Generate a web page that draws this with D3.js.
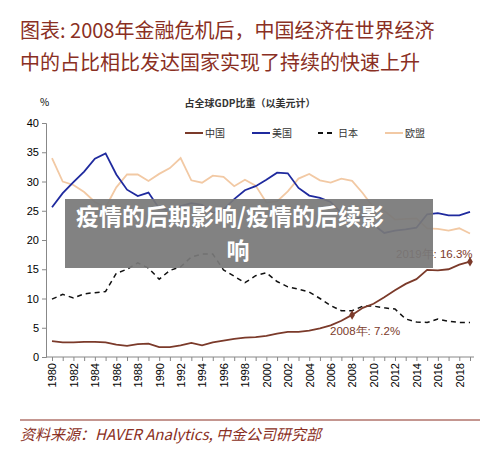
<!DOCTYPE html><html><head><meta charset="utf-8"><script src="https://cdn.jsdelivr.net/npm/d3@7"></script>
<style>body{margin:0;background:#fff;font-family:"Noto Sans CJK SC","Noto Sans",sans-serif}</style></head><body><svg width="500" height="469"></svg><script>
const years=d3.range(1980,2020);
const china=[2.7,2.5,2.5,2.6,2.6,2.5,2.1,1.9,2.2,2.3,1.7,1.7,2.0,2.4,2.0,2.5,2.8,3.1,3.3,3.4,3.6,4.0,4.3,4.3,4.5,4.9,5.4,6.2,7.2,8.4,9.1,10.2,11.4,12.5,13.3,14.9,14.8,15.0,15.8,16.3];
const us=[25.6,28.0,29.9,31.7,33.9,34.8,31.2,28.6,27.5,28.1,25.4,25.1,25.8,26.3,26.0,24.6,25.2,27.0,28.5,29.2,30.3,31.5,31.4,28.9,27.6,27.2,26.5,24.6,23.3,24.1,22.6,21.2,21.6,21.8,22.1,24.4,24.6,24.2,24.2,24.8];
const japan=[9.9,10.7,10.1,10.8,11.0,11.2,14.3,15.0,16.1,15.2,13.3,14.8,15.4,17.1,17.6,17.6,14.9,13.8,12.7,13.9,14.4,12.9,12.0,11.6,11.1,10.0,8.8,7.9,7.9,8.7,8.7,8.4,8.2,6.5,6.0,5.9,6.5,6.1,5.9,5.9];
const eu=[34.0,30.0,29.4,28.2,26.5,25.6,29.0,31.2,31.2,30.1,31.3,32.3,34.0,30.2,29.8,31.0,30.8,29.2,30.3,29.3,26.4,26.6,28.3,30.5,31.3,30.2,29.8,30.5,30.1,28.0,25.5,25.0,23.5,23.6,23.7,22.0,21.9,21.6,22.0,21.1];
const series=[{n:"中国",v:china,c:"#7b3a2a",d:null},{n:"美国",v:us,c:"#1f2a9e",d:null},{n:"日本",v:japan,c:"#111",d:"5,4"},{n:"欧盟",v:eu,c:"#f2c9a4",d:null}];
const yTicks=[0,5,10,15,20,25,30,35,40];
const svg=d3.select("svg");
svg.append("text").attr("x",20).attr("y",38).attr("fill","#8a2f23").attr("font-size",20).text("图表: 2008年金融危机后，中国经济在世界经济");
svg.append("text").attr("x",20).attr("y",70).attr("fill","#8a2f23").attr("font-size",20).text("中的占比相比发达国家实现了持续的快速上升");
svg.append("line").attr("x1",20).attr("x2",480).attr("y1",420).attr("y2",420).attr("stroke","#8a2f23");
svg.append("text").attr("x",20).attr("y",440).attr("fill","#8a2f23").attr("font-size",15).attr("font-style","italic").text("资料来源：HAVER Analytics, 中金公司研究部");
const x=d3.scaleLinear().domain([1980,2019]).range([52,470]);
const y=d3.scaleLinear().domain([0,40]).range([357,123]);
svg.append("text").attr("x",40).attr("y",106).attr("font-size",10).text("%");
svg.append("text").attr("x",250).attr("y",107).attr("text-anchor","middle").attr("font-size",10).attr("font-weight","bold").attr("fill","#333").text("占全球GDP比重（以美元计）");
const ya=svg.append("g").attr("transform","translate(46,0)").call(d3.axisLeft(y).tickValues(yTicks).tickSize(4));
ya.selectAll("text").attr("font-size",11).attr("font-family","Liberation Sans");
ya.selectAll("path,line").attr("stroke","#888");
const xa=svg.append("g").attr("transform","translate(0,357)").call(d3.axisBottom(x).tickValues(d3.range(1980,2020)).tickSize(4).tickFormat(d=>d%2==0?d:""));
xa.select("path").attr("d","M46,0H474");
xa.selectAll("path,line").attr("stroke","#888");
xa.selectAll("text").attr("font-size",11).attr("font-family","Liberation Sans").attr("text-anchor","end").attr("x",0).attr("y",0).attr("transform","translate(0,6) rotate(-90)").attr("dx",0).attr("dy","0.35em");
const line=d3.line().x((d,i)=>x(years[i])).y(d=>y(d));
[series[3],series[2],series[1],series[0]].forEach(s=>svg.append("path").datum(s.v).attr("d",line).attr("fill","none").attr("stroke",s.c).attr("stroke-width",s.n=="日本"?1.5:1.8).attr("stroke-dasharray",s.d));
const lg=[[185,0],[252,1],[318,2],[385,3]];
lg.forEach(([lx,i])=>{const s=series[i];svg.append("line").attr("x1",lx).attr("x2",lx+18).attr("y1",133).attr("y2",133).attr("stroke",s.c).attr("stroke-width",2).attr("stroke-dasharray",s.d);svg.append("text").attr("x",lx+20).attr("y",137).attr("font-size",10).attr("fill","#333").text(s.n);});
[[2008,7.2,"2008年: 7.2%",330,335],[2019,16.3,"2019年: 16.3%",396,258]].forEach(([yr,v,t,tx,ty])=>{svg.append("path").attr("d",d3.symbol(d3.symbolDiamond,28)()).attr("transform",`translate(${x(yr)},${y(v)})`).attr("fill","#7b3a2a");svg.append("text").attr("x",tx).attr("y",ty).attr("font-size",11.5).attr("fill","#7b3a2a").attr("font-family","Liberation Sans").text(t);});
svg.append("rect").attr("x",65).attr("y",199).attr("width",368).attr("height",69).attr("fill","rgba(120,120,120,0.93)");
svg.append("text").attr("x",76).attr("y",225).attr("fill","#fff").attr("font-size",23).attr("font-weight","bold").text("疫情的后期影响/疫情的后续影");
svg.append("text").attr("x",238).attr("y",259).attr("text-anchor","middle").attr("fill","#fff").attr("font-size",23).attr("font-weight","bold").text("响");
</script></body></html>
